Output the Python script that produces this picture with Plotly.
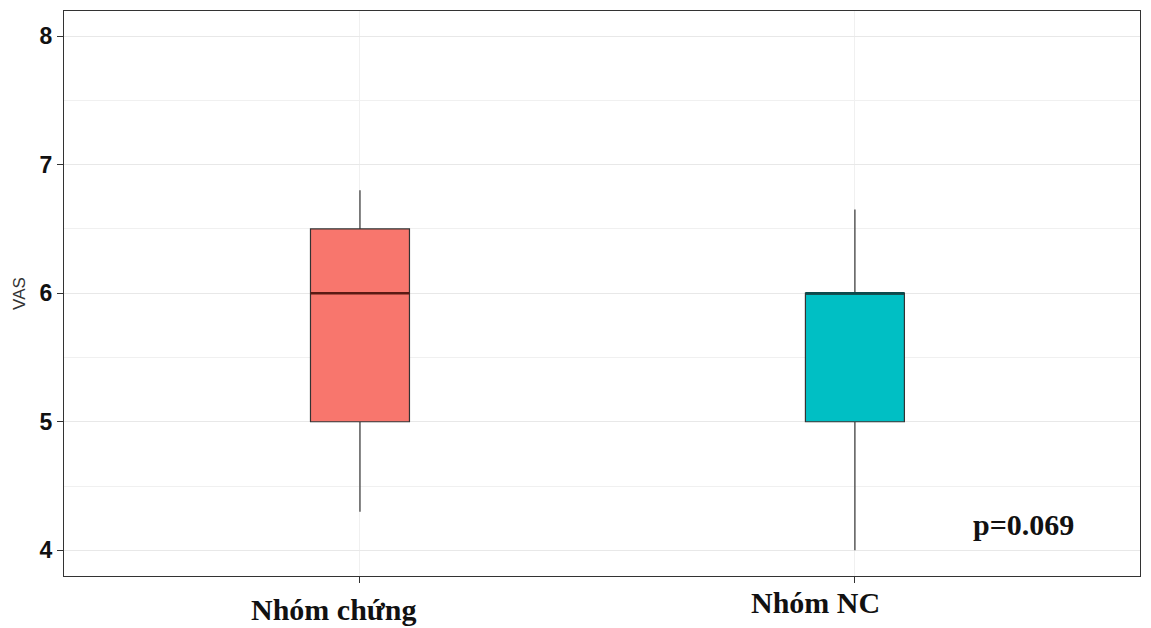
import plotly.graph_objects as go

groups = ["Nhóm chứng", "Nhóm NC"]
q1 = [5.0, 5.0]
median = [6.0, 6.0]
q3 = [6.5, 6.0]
lower = [4.3, 4.0]
upper = [6.8, 6.65]
fills = ["#F8766D", "#00BFC4"]
median_colors = ["#5a1a14", "#0a4a4c"]
y_ticks = [4, 5, 6, 7, 8]
p_text = "p=0.069"

xpos = list(range(len(groups)))
box_w = 0.2

fig = go.Figure()
for i, g in enumerate(groups):
    fig.add_trace(go.Box(
        x=[xpos[i]], q1=[q1[i]], median=[median[i]], q3=[q3[i]],
        lowerfence=[lower[i]], upperfence=[upper[i]],
        width=box_w, fillcolor=fills[i],
        line=dict(color="#333333", width=1.2),
        whiskerwidth=0, name=g, showlegend=False, hoverinfo="skip",
    ))
    fig.add_trace(go.Scatter(
        x=[xpos[i] - box_w / 2, xpos[i] + box_w / 2],
        y=[median[i], median[i]], mode="lines",
        line=dict(color=median_colors[i], width=2.5),
        showlegend=False, hoverinfo="skip",
    ))

# category labels (offset left of their ticks, as in the reference)
label_xshift = [-111, -106]
label_yshift = [-15, -8]
for i, g in enumerate(groups):
    fig.add_annotation(
        x=xpos[i], y=0, xref="x", yref="paper", text=g, showarrow=False,
        xanchor="left", yanchor="top", xshift=label_xshift[i], yshift=label_yshift[i],
        font=dict(family="Liberation Serif", size=30, color="#111111", weight="bold"),
    )

fig.add_annotation(
    x=1.34, y=4.2, xref="x", yref="y", text=p_text, showarrow=False,
    font=dict(family="Liberation Serif", size=30, color="#111111", weight="bold"),
)

fig.update_layout(
    width=1135, height=620,
    margin=dict(l=56, r=3, t=3, b=52),
    paper_bgcolor="white", plot_bgcolor="white",
    showlegend=False,
)
fig.update_xaxes(
    range=[-0.598, 1.576], tickvals=xpos, ticktext=["", ""],
    showgrid=True, gridcolor="#f0f0f0", gridwidth=1,
    ticks="outside", ticklen=6, tickcolor="#333333",
    showline=True, linecolor="#333333", linewidth=1.2, mirror=True,
    zeroline=False,
)
fig.update_yaxes(
    range=[3.8, 8.195], tickvals=y_ticks,
    showgrid=True, gridcolor="#e8e8e8", gridwidth=1,
    minor=dict(dtick=0.5, showgrid=True, gridcolor="#f0f0f0", gridwidth=1),
    ticks="outside", ticklen=6, tickcolor="#333333",
    tickfont=dict(family="Liberation Sans", size=23, color="#111111", weight="bold"),
    title=dict(text="VAS", font=dict(family="Liberation Sans", size=17, color="#333333"), standoff=9),
    showline=True, linecolor="#333333", linewidth=1.2, mirror=True,
    zeroline=False,
)

fig.write_html("out.html")
